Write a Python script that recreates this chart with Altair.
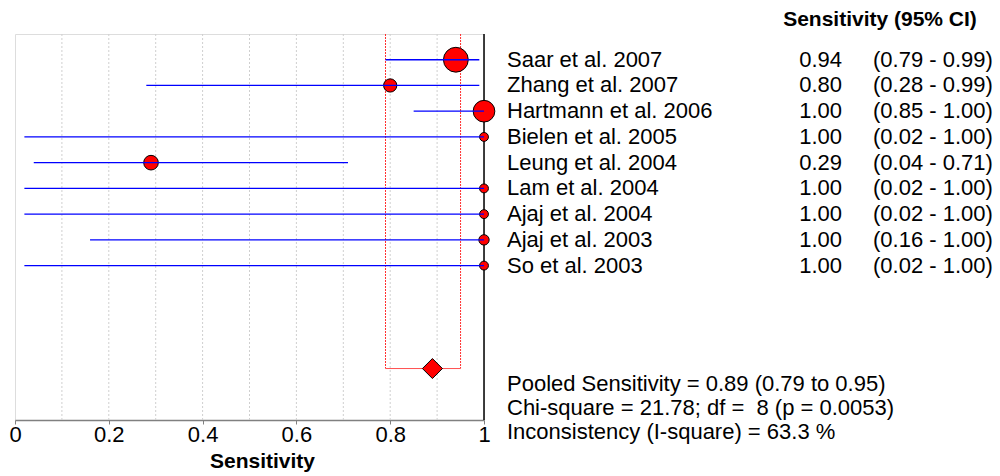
import altair as alt
import pandas as pd

# Studies included in the pooled sensitivity estimate
studies = ["Saar et al. 2007", "Zhang et al. 2007", "Hartmann et al. 2006",
           "Bielen et al. 2005", "Leung et al. 2004", "Lam et al. 2004",
           "Ajaj et al. 2004", "Ajaj et al. 2003", "So et al. 2003"]
sensitivity = [0.94, 0.80, 1.00, 1.00, 0.29, 1.00, 1.00, 1.00, 1.00]
ci_low = [0.79, 0.28, 0.85, 0.02, 0.04, 0.02, 0.02, 0.16, 0.02]
ci_high = [0.99, 0.99, 1.00, 1.00, 0.71, 1.00, 1.00, 1.00, 1.00]
cases = [34, 5, 23, 1, 7, 1, 1, 2, 1]

# Pooled estimate
pooled = 0.89
pooled_low = 0.79
pooled_high = 0.95
pooled_row = 13

stats_lines = ["Pooled Sensitivity = 0.89 (0.79 to 0.95)",
               "Chi-square = 21.78; df = \u00a08 (p = 0.0053)",
               "Inconsistency (I-square) = 63.3 %"]

tick_values = [0, 0.2, 0.4, 0.6, 0.8, 1]
grid_values = [0.1, 0.2, 0.3, 0.4, 0.5, 0.6, 0.7, 0.8, 0.9]

FONT = "Liberation Sans"
FS = 22
W, H = 469, 386

df = pd.DataFrame({
    "study": studies,
    "sens": sensitivity,
    "lo": ci_low,
    "hi": ci_high,
    "cases": cases,
    "row": list(range(1, len(studies) + 1)),
})
df["sens_txt"] = [f"{v:.2f}" for v in sensitivity]
df["ci_txt"] = [f"({a:.2f} - {b:.2f})" for a, b in zip(ci_low, ci_high)]

pool_df = pd.DataFrame({"est": [pooled], "lo": [pooled_low], "hi": [pooled_high],
                        "row": [pooled_row], "top": [0]})
grid_df = pd.DataFrame({"g": grid_values})
stats_df = pd.DataFrame({"txt": stats_lines, "k": list(range(len(stats_lines)))})

xscale = alt.Scale(domain=[0, 1], nice=False, zero=False)
yscale = alt.Scale(domain=[0, 15], reverse=True, nice=False, zero=False)

x_axis = alt.Axis(values=tick_values, grid=False, title="Sensitivity",
                  labelFontSize=FS, labelFont=FONT, labelColor="black",
                  labelPadding=0, tickSize=4, tickColor="#808080",
                  domainColor="#808080", domainWidth=1.5, labelFlush=False,
                  labelExpr="datum.value == 0 || datum.value == 1 ? format(datum.value, 'd') : format(datum.value, '.1f')",
                  titleFont=FONT, titleFontSize=21, titleFontWeight="bold",
                  titleX=247, titleY=30, titleBaseline="top", titleAlign="center")

grid = alt.Chart(grid_df).mark_rule(color="#cfcfcf", strokeDash=[2, 2], strokeWidth=1).encode(
    x=alt.X("g:Q", scale=xscale, axis=x_axis),
)

right_edge = alt.Chart(pd.DataFrame({"v": [1]})).mark_rule(color="black", strokeWidth=1.5).encode(
    x=alt.X("v:Q", scale=xscale),
)

pool_vlines = alt.Chart(pool_df).transform_fold(["lo", "hi"], as_=["side", "xv"]).mark_rule(
    color="#ff3030", strokeDash=[2, 1], strokeWidth=1).encode(
    x=alt.X("xv:Q", scale=xscale),
    y=alt.Y("top:Q", scale=yscale, axis=None),
    y2="row:Q",
)

pool_hline = alt.Chart(pool_df).mark_rule(color="#ff5050", strokeWidth=1).encode(
    x=alt.X("lo:Q", scale=xscale),
    x2="hi:Q",
    y=alt.Y("row:Q", scale=yscale, axis=None),
)

points = alt.Chart(df).mark_point(shape="circle", filled=True, fill="#ff0000",
                                  stroke="black", strokeWidth=1, opacity=1).encode(
    x=alt.X("sens:Q", scale=xscale),
    y=alt.Y("row:Q", scale=yscale, axis=None),
    size=alt.Size("cases:Q", legend=None,
                  scale=alt.Scale(type="pow", exponent=0.75, domain=[1, 34], range=[79, 616])),
)

ci_lines = alt.Chart(df).mark_rule(color="#0000ff", strokeWidth=1.3).encode(
    x=alt.X("lo:Q", scale=xscale),
    x2="hi:Q",
    y=alt.Y("row:Q", scale=yscale, axis=None),
)

diamond = alt.Chart(pool_df).mark_point(shape="diamond", filled=True, fill="#ff0000",
                                        stroke="black", strokeWidth=1, size=400, opacity=1).encode(
    x=alt.X("est:Q", scale=xscale),
    y=alt.Y("row:Q", scale=yscale, axis=None),
)

txt = dict(font=FONT, fontSize=FS, color="black", baseline="middle")

labels = alt.Chart(df).mark_text(align="left", **txt).encode(
    x=alt.value(492), y=alt.Y("row:Q", scale=yscale, axis=None), text="study:N")
values = alt.Chart(df).mark_text(align="right", **txt).encode(
    x=alt.value(827), y=alt.Y("row:Q", scale=yscale, axis=None), text="sens_txt:N")
cis = alt.Chart(df).mark_text(align="left", **txt).encode(
    x=alt.value(858), y=alt.Y("row:Q", scale=yscale, axis=None), text="ci_txt:N")

header = alt.Chart(pd.DataFrame({"t": ["Sensitivity (95% CI)"]})).mark_text(
    align="center", font=FONT, fontSize=21, fontWeight="bold", color="black", baseline="middle").encode(
    x=alt.value(865), y=alt.value(-14), text="t:N")

stats = alt.Chart(stats_df).mark_text(align="left", **txt).encode(
    x=alt.value(492),
    y=alt.Y("k:Q", scale=alt.Scale(domain=[0, 2], range=[349.5, 397.5]), axis=None),
    text="txt:N")

chart = alt.layer(grid, pool_vlines, pool_hline, right_edge, points, ci_lines, diamond,
                  labels, values, cis, header, stats).resolve_scale(y="independent").properties(
    width=W, height=H,
    autosize=alt.AutoSizeParams(type="none"),
    padding={"left": 15, "top": 34, "right": 516, "bottom": 56},
    background="white",
).configure_view(stroke="#808080", strokeWidth=1.5).configure(font=FONT)

chart.save("out.html", embed_options={"renderer": "svg", "actions": False})
